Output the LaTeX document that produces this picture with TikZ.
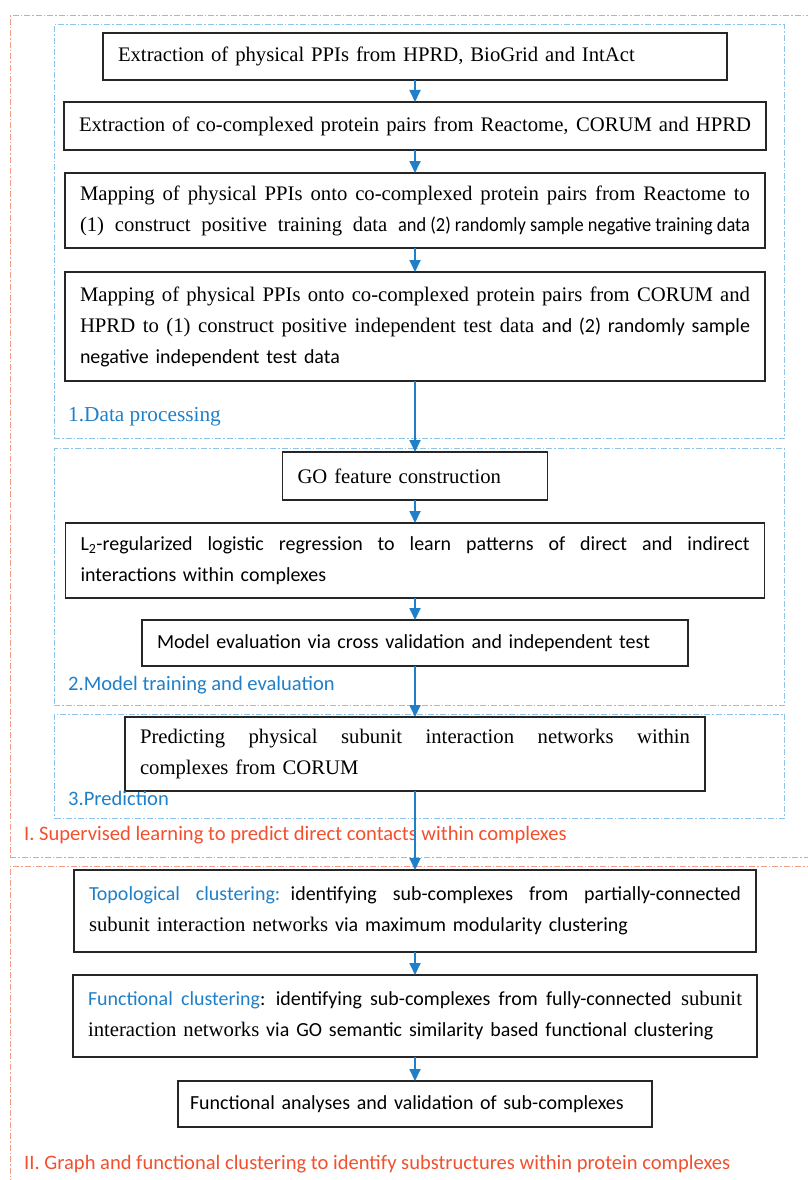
\documentclass[tikz,border=0pt]{standalone}
\usepackage{fontspec}
\setmainfont{Liberation Serif}
\setsansfont{Carlito}[Scale=0.965]
\usepackage{xcolor}
\usepackage{graphicx}
\usepackage{tikz}
\usetikzlibrary{arrows.meta, positioning}
\definecolor{flowblue}{HTML}{1F7FC8}
\definecolor{grpblue}{HTML}{8FC4EA}
\definecolor{stagered}{HTML}{F49A87}
\definecolor{titlered}{HTML}{F2502D}
\newcommand{\justline}[2]{\makebox[#1][s]{\spaceskip=0pt\relax #2}}

\begin{document}
\begin{tikzpicture}[
  x=1pt, y=1pt,
  every node/.style={font=\fontsize{20.7}{31}\selectfont},
  procbox/.style={draw=black!85, line width=1.5pt, fill=white, align=left,
                  inner xsep=15pt, inner ysep=3pt, outer sep=0pt},
  grpbox/.style={draw=grpblue, line width=1pt, minimum width=730pt,
                 dash pattern=on 6pt off 2pt on 1.5pt off 2pt},
  stagebox/.style={draw=stagered, line width=1pt, minimum width=820pt,
                   dash pattern=on 6pt off 2pt on 1.5pt off 2pt},
  arrow/.style={-{Triangle[length=12pt,width=11pt]}, line width=1.8pt, color=flowblue},
  grplabel/.style={anchor=west, inner sep=0pt, color=flowblue,
                   font=\fontsize{21.3}{31}\selectfont\sffamily},
  stagelabel/.style={anchor=west, inner sep=0pt, color=titlered,
                     font=\fontsize{21.3}{31}\selectfont\sffamily}
]
\clip (0,0) rectangle (808,-1180);

% Stages (red) and steps (blue)
\node[stagebox, minimum height=841pt] (stage1) at (420,-436.5) {};
\node[stagebox, minimum height=324pt] (stage2) at (420,-1028) {};
\node[grpbox, minimum height=413pt] (grp1) at (419,-231.5) {};
\node[grpbox, minimum height=257pt] (grp2) at (419,-576.5) {};
\node[grpbox, minimum height=104pt] (grp3) at (419.5,-766) {};

% Step 1 — Data processing
\node[procbox, anchor=north, text width=594pt, minimum height=47pt] (ppi) at (415,-33)
  {Extraction of physical PPIs from HPRD, BioGrid and IntAct};
\node[procbox, below=22pt of ppi, text width=672pt, minimum height=48pt] (cocomplex)
  {\justline{672pt}{Extraction of co-complexed protein pairs from Reactome, CORUM and HPRD}};
\node[procbox, below=23pt of cocomplex, text width=670pt, minimum height=75pt] (trainmap)
  {\justline{670pt}{Mapping of physical PPIs onto co-complexed protein pairs from Reactome to}\\
   \justline{670pt}{(1) construct positive training data \scalebox{0.92}[1]{\textsf{and (2) randomly sample negative training data}}}};
\node[procbox, below=24pt of trainmap, text width=670pt, minimum height=109pt] (testmap)
  {\justline{670pt}{Mapping of physical PPIs onto co-complexed protein pairs from CORUM and}\\
   \justline{670pt}{HPRD to (1) construct positive independent test data \textsf{and (2) randomly sample}}\\
   \textsf{negative independent test data}};
\node[grplabel, font=\fontsize{21.3}{31}\selectfont] (lab1) at (68,-417) {1.Data processing};

% Step 2 — Model training
\node[procbox, below=71pt of testmap, text width=235pt, minimum height=48pt] (gofeat)
  {GO feature construction};
\node[procbox, below=23pt of gofeat, text width=669pt, minimum height=75pt, font=\fontsize{20.7}{31}\selectfont\sffamily] (logreg)
  {\justline{669pt}{L\textsubscript{2}-regularized logistic regression to learn patterns of direct and indirect}\\
   interactions within complexes};
\node[procbox, below=22pt of logreg, text width=516pt, minimum height=46pt, font=\fontsize{20.7}{31}\selectfont\sffamily] (evalmodel)
  {Model evaluation via cross validation and independent test};
\node[grplabel] (lab2) at (68,-685) {2.Model training and evaluation};

% Step 3 — Prediction
\node[procbox, below=51pt of evalmodel, text width=550pt, minimum height=74pt] (predict)
  {\justline{550pt}{Predicting physical subunit interaction networks within}\\
   complexes from CORUM};
\node[grplabel] (lab3) at (68,-798) {3.Prediction};
\node[stagelabel] (stagelab1) at (24,-835) {I. Supervised learning to predict direct contacts within complexes};

% Stage II — Clustering
\node[procbox, below=79pt of predict, text width=652pt, minimum height=82pt] (topoclust)
  {\justline{652pt}{\textsf{\color{flowblue}Topological clustering:} \textsf{identifying sub-complexes from partially-connected}}\\
   subunit interaction networks \textsf{via maximum modularity clustering}};
\node[procbox, below=23pt of topoclust, text width=654pt, minimum height=82pt] (funcclust)
  {\justline{654pt}{\textsf{\color{flowblue}Functional clustering}\textsf{: identifying sub-complexes from fully-connected} subunit}\\
   interaction networks \textsf{via GO semantic similarity based functional clustering}};
\node[procbox, below=24pt of funcclust, text width=450pt, inner xsep=12pt, minimum height=46pt, font=\fontsize{20.7}{31}\selectfont\sffamily] (analysis)
  {Functional analyses and validation of sub-complexes};
\node[stagelabel] (stagelab2) at (24,-1164) {II. Graph and functional clustering to identify substructures within protein complexes};

% Connections
\draw[arrow] (ppi) -- (cocomplex);
\draw[arrow] (cocomplex) -- (trainmap);
\draw[arrow] (trainmap) -- (testmap);
\draw[arrow] (testmap) -- (gofeat);
\draw[arrow] (gofeat) -- (logreg);
\draw[arrow] (logreg) -- (evalmodel);
\draw[arrow] (evalmodel) -- (predict);
\draw[arrow] (predict) -- (topoclust);
\draw[arrow] (topoclust) -- (funcclust);
\draw[arrow] (funcclust) -- (analysis);

\end{tikzpicture}
\end{document}
